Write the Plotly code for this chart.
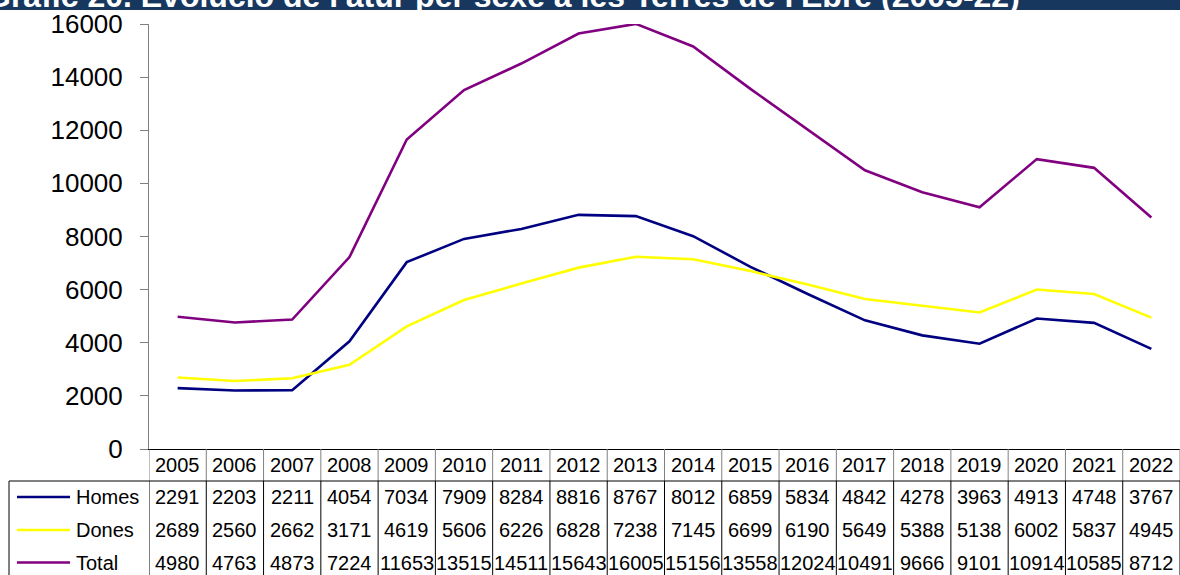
import plotly.graph_objects as go

years = ["2005", "2006", "2007", "2008", "2009", "2010", "2011", "2012", "2013",
         "2014", "2015", "2016", "2017", "2018", "2019", "2020", "2021", "2022"]
homes = [2291, 2203, 2211, 4054, 7034, 7909, 8284, 8816, 8767, 8012, 6859, 5834,
         4842, 4278, 3963, 4913, 4748, 3767]
dones = [2689, 2560, 2662, 3171, 4619, 5606, 6226, 6828, 7238, 7145, 6699, 6190,
         5649, 5388, 5138, 6002, 5837, 4945]
total = [4980, 4763, 4873, 7224, 11653, 13515, 14511, 15643, 16005, 15156, 13558,
         12024, 10491, 9666, 9101, 10914, 10585, 8712]
series_names = ["Homes", "Dones", "Total"]
series_colors = ["#000080", "#FFFF00", "#800080"]
y_ticks = [0, 2000, 4000, 6000, 8000, 10000, 12000, 14000, 16000]
y_tick_labels = ["0", "2000", "4000", "6000", "8000", "10000", "12000", "14000", "16000"]
title_text = "Gràfic 20. Evolució de l'atur per sexe a les Terres de l'Ebre (2005-22)"

W, H = 1180, 575
L, R, T, B = 149, 0, 24, 126
PW = W - L - R
PH = H - T - B
FONT = "Liberation Sans, Arial, sans-serif"


def py(pix):
    return (H - B - pix) / PH


def px(pix):
    return (pix - L) / PW


fig = go.Figure()
series = [homes, dones, total]
for name, vals, col in zip(series_names, series, series_colors):
    fig.add_trace(go.Scatter(x=list(range(len(years))), y=vals, mode="lines",
                             name=name, line=dict(color=col, width=2.6),
                             showlegend=False))

shapes = []
annotations = []

# title bar
shapes.append(dict(type="rect", xref="paper", yref="paper", x0=px(-5), x1=px(W + 5),
                   y0=py(10), y1=py(-5), fillcolor="#17375E", line=dict(width=0),
                   layer="above"))
annotations.append(dict(text=title_text, xref="paper", yref="paper", x=px(1022),
                        y=py(-4), xanchor="right", yanchor="middle", showarrow=False,
                        font=dict(family=FONT, size=32, color="white", weight="bold")))

# table grid
n = len(years)
for i in range(n + 1):
    xv = i - 0.5
    shapes.append(dict(type="line", xref="x", yref="paper", x0=xv, x1=xv,
                       y0=py(449), y1=py(481), line=dict(color="#808080", width=1)))
    shapes.append(dict(type="line", xref="x", yref="paper", x0=xv, x1=xv,
                       y0=py(481), y1=py(580), line=dict(color="#000000", width=1)))
shapes.append(dict(type="line", xref="paper", yref="paper", x0=px(9), x1=1,
                   y0=py(481), y1=py(481), line=dict(color="#000000", width=1)))
shapes.append(dict(type="line", xref="paper", yref="paper", x0=px(9), x1=px(9),
                   y0=py(481), y1=py(580), line=dict(color="#000000", width=1)))

# header row
for i, yr in enumerate(years):
    annotations.append(dict(text=yr, xref="x", yref="paper", x=i, y=py(465),
                            showarrow=False, xanchor="center", yanchor="middle",
                            font=dict(family=FONT, size=20, color="black")))

row_y = [497, 530, 562.5]
for name, vals, col, ry in zip(series_names, series, series_colors, row_y):
    shapes.append(dict(type="line", xref="paper", yref="paper", x0=px(17), x1=px(70),
                       y0=py(ry), y1=py(ry), line=dict(color=col, width=2.6)))
    annotations.append(dict(text=name, xref="paper", yref="paper", x=px(74), y=py(ry),
                            showarrow=False, xanchor="left", yanchor="middle",
                            font=dict(family=FONT, size=20, color="black")))
    for i, v in enumerate(vals):
        annotations.append(dict(text=str(v), xref="x", yref="paper", x=i, y=py(ry),
                                showarrow=False, xanchor="center", yanchor="middle",
                                font=dict(family=FONT, size=20, color="black")))

fig.update_layout(
    width=W, height=H,
    margin=dict(l=L, r=R, t=T, b=B),
    paper_bgcolor="white", plot_bgcolor="white",
    shapes=shapes, annotations=annotations,
    font=dict(family=FONT, color="black"),
    xaxis=dict(range=[-0.5, n - 0.5], showticklabels=False, ticks="",
               showgrid=False, zeroline=False, showline=True, linecolor="black",
               linewidth=1, fixedrange=True),
    yaxis=dict(range=[0, 16000], tickvals=y_ticks, ticktext=y_tick_labels,
               ticks="outside", ticklen=8,
               tickcolor="#808080", showline=True, linecolor="#808080", linewidth=1,
               showgrid=False, zeroline=False, tickfont=dict(family=FONT, size=26),
               ticklabelstandoff=12, fixedrange=True),
)

fig.write_html("out.html", config={"displayModeBar": False},
               post_script="document.body.style.margin='0px';document.body.style.overflow='hidden';")
